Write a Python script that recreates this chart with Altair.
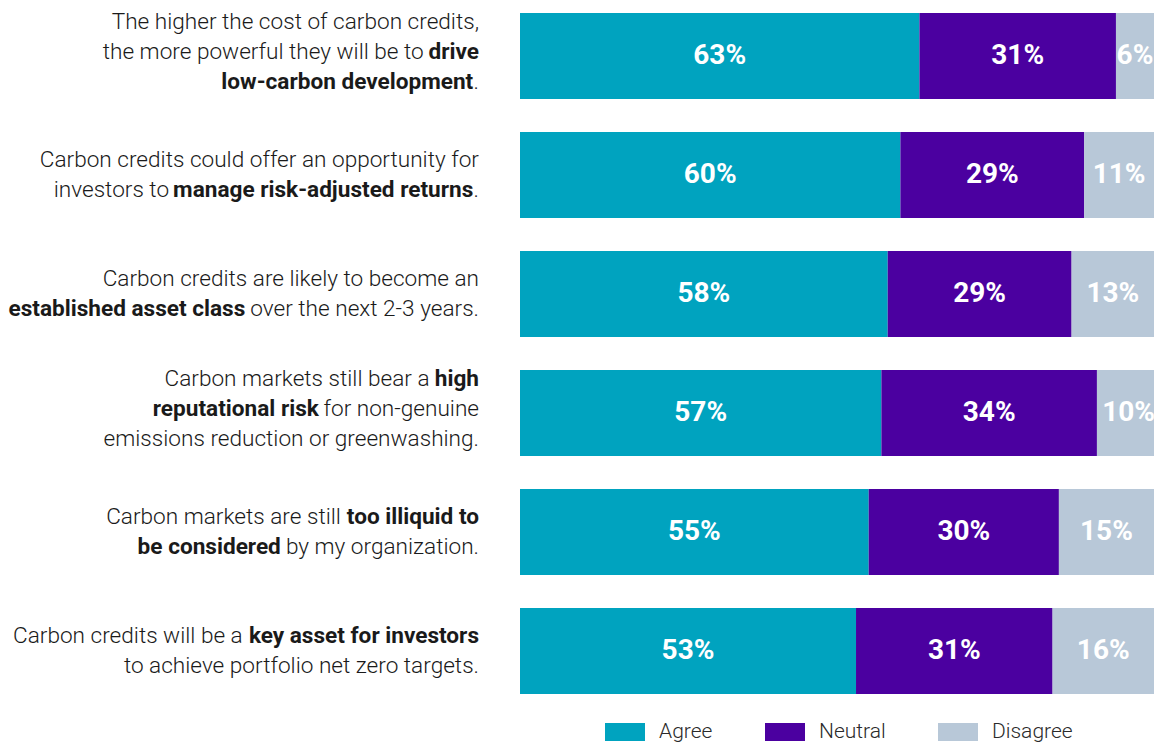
import altair as alt
import pandas as pd

# ---------------- data ----------------
categories = ["Q1", "Q2", "Q3", "Q4", "Q5", "Q6"]
label_lines = [
    ["The higher the cost of carbon credits,",
     "the more powerful they will be to **drive**",
     "**low-carbon development**."],
    ["Carbon credits could offer an opportunity for",
     "investors to **manage risk-adjusted returns**."],
    ["Carbon credits are likely to become an",
     "**established asset class** over the next 2-3 years."],
    ["Carbon markets still bear a **high**",
     "**reputational risk** for non-genuine",
     "emissions reduction or greenwashing."],
    ["Carbon markets are still **too illiquid to**",
     "**be considered** by my organization."],
    ["Carbon credits will be a **key asset for investors**",
     "to achieve portfolio net zero targets."],
]
responses = ["Agree", "Neutral", "Disagree"]
agree = [63, 60, 58, 57, 55, 53]
neutral = [31, 29, 29, 34, 30, 31]
disagree = [6, 11, 13, 10, 15, 16]
colors = ["#00A3BF", "#4B00A0", "#B8C8D8"]

# ---------------- tables ----------------
rows = []
for i, c in enumerate(categories):
    for k, (r, vals) in enumerate(zip(responses, [agree, neutral, disagree])):
        rows.append({"cat": c, "response": r, "value": vals[i], "order": k,
                     "lbl": f"{vals[i]}%"})
bars_df = pd.DataFrame(rows)

# approximate Roboto advance widths (units per 2048 em) for laying out mixed-weight lines
W = {' ': 507, ',': 400, '-': 553, '.': 527, '%': 1465, 'A': 1336, 'C': 1333, 'T': 1222,
     'a': 1114, 'b': 1148, 'c': 1071, 'd': 1154, 'e': 1084, 'f': 710, 'g': 1148, 'h': 1128,
     'i': 497, 'j': 489, 'k': 1038, 'l': 497, 'm': 1795, 'n': 1130, 'o': 1167, 'p': 1148,
     'q': 1163, 'r': 693, 's': 1056, 't': 668, 'u': 1129, 'v': 991, 'w': 1539, 'x': 1015,
     'y': 969, 'z': 1015}
FS = 22.6
LINE = 30


def tw(s, bold=False):
    base = sum(W.get(ch, 1150) for ch in s) / 2048 * FS
    return base * (1.02 if bold else 0.983)


segs = []
for i, c in enumerate(categories):
    lines = label_lines[i]
    n = len(lines)
    shift = -4 if n == 3 else 0
    for j, line in enumerate(lines):
        dy = (j - (n - 1) / 2) * LINE + shift
        parts = line.split("**")
        cursor = 0.0
        for p_idx in range(len(parts) - 1, -1, -1):
            part = parts[p_idx]
            if part == "":
                continue
            bold = (p_idx % 2 == 1)
            stripped = part.strip(" ")
            trail = len(part) - len(part.rstrip(" "))
            lead = len(part) - len(part.lstrip(" "))
            cursor -= tw(" " * trail, bold)
            if stripped:
                segs.append({"cat": c, "seg": stripped, "bold": bold, "dx": cursor, "dy": dy})
                cursor -= tw(stripped, bold)
            cursor -= tw(" " * lead, bold)
seg_df = pd.DataFrame(segs)

# ---------------- chart ----------------
yenc = alt.Y("cat:N", sort=categories, axis=None,
             scale=alt.Scale(paddingInner=0.277, paddingOuter=0))
xscale = alt.Scale(domain=[0, 100], nice=False, zero=True)

base = alt.Chart(bars_df).transform_stack(
    stack="value", groupby=["cat"], as_=["v0", "v1"],
    sort=[alt.SortField("order", order="ascending")]
).transform_calculate(mid="(datum.v0 + datum.v1) / 2")

bars = base.mark_bar(clip=True).encode(
    x=alt.X("v0:Q", scale=xscale, axis=None),
    x2="v1:Q",
    y=yenc,
    color=alt.Color(
        "response:N",
        scale=alt.Scale(domain=responses, range=colors),
        legend=alt.Legend(
            title=None, orient="none", direction="horizontal",
            legendX=85, legendY=699,
            symbolType="M-1,-0.45L1,-0.45L1,0.45L-1,0.45Z",
            symbolSize=1600, symbolStrokeWidth=0, symbolOpacity=1,
            labelFont="Roboto", labelFontSize=21, labelFontWeight=300,
            labelColor="#2a2a2a", labelOffset=14, columnPadding=52,
        ),
    ),
    order=alt.Order("order:Q"),
)

pct = base.mark_text(font="Roboto", fontSize=28, fontWeight="bold", color="white",
                     baseline="middle").encode(
    x=alt.X("mid:Q", scale=xscale, axis=None),
    y=yenc,
    text="lbl:N",
)

qlabels = alt.Chart(seg_df).mark_text(
    font="Roboto", fontSize=FS, color="#1a1a1a", align="right", baseline="middle",
    dx=alt.ExprRef("datum.dx"), dy=alt.ExprRef("datum.dy"),
    fontWeight=alt.ExprRef("datum.bold ? 'bold' : 300"),
).encode(
    x=alt.value(-41),
    y=yenc,
    text="seg:N",
)

chart = alt.layer(bars, pct, qlabels).properties(
    width=634, height=681,
    autosize=alt.AutoSizeParams(type="none"),
    padding={"left": 512, "top": 5, "right": 0, "bottom": 50},
).configure_view(stroke=None)

chart.save("out.html", embed_options={"renderer": "svg", "actions": False})
